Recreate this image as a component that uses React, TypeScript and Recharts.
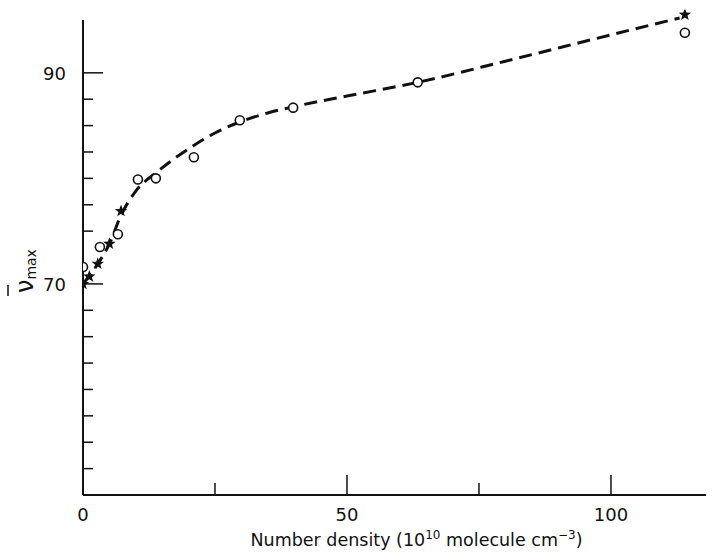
import {
  ComposedChart,
  Line,
  ReferenceLine,
  Scatter,
  XAxis,
  YAxis,
} from "recharts";

// open circles
const circleX = [0, 3.2, 6.6, 10.4, 13.8, 21, 29.7, 39.8, 63.4, 114];
const circleY = [71.6, 73.5, 74.7, 79.9, 80.0, 82.0, 85.5, 86.7, 89.1, 93.8];

// filled stars
const starX = [0, 1.2, 2.8, 5, 7.2, 114];
const starY = [70.0, 70.7, 71.9, 73.8, 76.9, 95.5];

// dashed curve
const curveX = [0, 2.8, 5, 7.2, 10, 14, 20, 25, 30, 35, 40, 50, 63.4, 80, 100, 113];
const curveY = [70.0, 71.9, 73.8, 76.5, 78.8, 80.6, 82.8, 84.3, 85.4, 86.2, 86.8, 87.8, 89.1, 91.1, 93.6, 95.2];

const xTicks = [0, 25, 50, 75, 100];
const xLabels = [0, 50, 100];
const yTicks = [50, 52.5, 55, 57.5, 60, 62.5, 65, 67.5, 70, 75, 77.5, 80, 82.5, 85, 87.5, 90];
const yLabels = [70, 90];

const circles = circleX.map((x, i) => ({ x, y: circleY[i] }));
const stars = starX.map((x, i) => ({ x, y: starY[i] }));
const curve = curveX.map((x, i) => ({ x, y: curveY[i] }));

const ink = "#111";
const font = "'DejaVu Sans', sans-serif";

function XTick({ x, y, payload }: any) {
  const v = payload.value;
  const major = xLabels.includes(v);
  return (
    <g>
      {v !== 0 && (
        <line x1={x} x2={x} y1={y} y2={y - (major ? 20 : 12)} stroke={ink} strokeWidth={1.5} />
      )}
      {major && (
        <text x={x} y={y + 26} textAnchor="middle" fontSize={18} fontFamily={font} fill={ink}>
          {v}
        </text>
      )}
    </g>
  );
}

function YTick({ x, y, payload }: any) {
  const v = payload.value;
  const major = yLabels.includes(v);
  return (
    <g>
      <line x1={x} x2={x + (major ? 20 : 10)} y1={y} y2={y} stroke={ink} strokeWidth={1.5} />
      {major && (
        <text x={x - 17} y={y + 7} textAnchor="end" fontSize={18} fontFamily={font} fill={ink}>
          {v}
        </text>
      )}
    </g>
  );
}

function CircleDot({ cx, cy }: any) {
  return <circle cx={cx} cy={cy} r={4.5} fill="#fff" stroke={ink} strokeWidth={1.6} />;
}

function StarDot({ cx, cy }: any) {
  const pts: string[] = [];
  for (let k = 0; k < 10; k++) {
    const r = k % 2 === 0 ? 6.5 : 2.7;
    const a = -Math.PI / 2 + (k * Math.PI) / 5;
    pts.push(`${cx + r * Math.cos(a)},${cy + r * Math.sin(a)}`);
  }
  return <polygon points={pts.join(" ")} fill={ink} />;
}

function YTitle({ viewBox }: any) {
  const left = viewBox.x;
  return (
    <g transform={`translate(${left + 33}, 293) rotate(-90)`} fontFamily={font} fill={ink}>
      <line x1={-3} x2={8} y1={-25} y2={-25} stroke={ink} strokeWidth={1.5} />
      <text x={0} y={0} fontSize={24}>
        ν
        <tspan fontSize={14} dy={3}>max</tspan>
      </text>
    </g>
  );
}

function XTitle({ viewBox }: any) {
  const cx = viewBox.x + viewBox.width / 2 + 22;
  return (
    <text x={cx} y={546} textAnchor="middle" fontSize={17.5} fontFamily={font} fill={ink}>
      Number density (10
      <tspan fontSize={12} dy={-7}>10</tspan>
      <tspan dy={7}> molecule cm</tspan>
      <tspan fontSize={12} dy={-7}>−3</tspan>
      <tspan dy={7}>)</tspan>
    </text>
  );
}

export default function App() {
  return (
    <div style={{ width: 712, height: 554, background: "#fff" }}>
      <style>{`body{margin:0}`}</style>
      <ComposedChart
        width={712}
        height={554}
        margin={{ top: 9.5, right: 6, bottom: 0, left: 0 }}
      >
        <XAxis
          type="number"
          dataKey="x"
          domain={[0, 118]}
          ticks={xTicks}
          tick={<XTick />}
          tickSize={0}
          tickMargin={0}
          tickLine={false}
          axisLine={{ stroke: ink, strokeWidth: 2 }}
          height={59}
          allowDataOverflow
          label={{ content: <XTitle /> }}
        />
        <YAxis
          type="number"
          dataKey="y"
          domain={[50, 96]}
          ticks={yTicks}
          tick={<YTick />}
          tickSize={0}
          tickMargin={0}
          tickLine={false}
          axisLine={false}
          width={83}
          interval={0}
          allowDataOverflow
          label={{ content: <YTitle /> }}
        />
        <ReferenceLine
          segment={[
            { x: 0, y: 50 },
            { x: 0, y: 95 },
          ]}
          stroke={ink}
          strokeWidth={2}
        />
        <Line
          data={curve}
          dataKey="y"
          type="monotone"
          stroke={ink}
          strokeWidth={3}
          strokeDasharray="13 7"
          dot={false}
          activeDot={false}
          isAnimationActive={false}
        />
        <Scatter data={circles} dataKey="y" shape={<CircleDot />} isAnimationActive={false} />
        <Scatter data={stars} dataKey="y" shape={<StarDot />} isAnimationActive={false} />
      </ComposedChart>
    </div>
  );
}
